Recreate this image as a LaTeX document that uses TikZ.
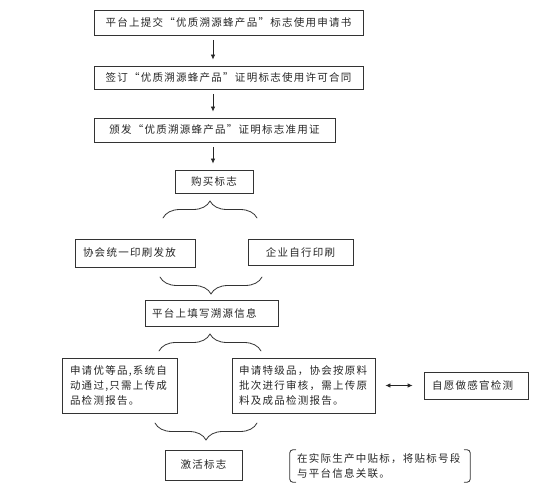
\documentclass[tikz,border=0pt]{standalone}
\usepackage{fontspec}
\setmainfont{Noto Sans CJK SC}[LetterSpace=12]
\usetikzlibrary{arrows.meta,decorations.pathreplacing}

\begin{document}
\begin{tikzpicture}[x=1pt,y=-1pt,>={Latex[length=5pt,width=4.5pt]},font=\fontsize{10.5}{15}\selectfont,line cap=round,
  box/.style={draw=black!80,line width=0.8pt,inner sep=0pt,text=black!85},
  flow/.style={->,draw=black!85,line width=0.8pt,shorten <=5pt,shorten >=6pt},
  brace/.style={decorate,decoration={brace,amplitude=17pt},draw=black!80,line width=0.8pt}]
\useasboundingbox (0,0) rectangle (539,500);
\node[box,minimum width=269pt,minimum height=25pt] (b1) at (228.5,22.5) {平台上提交“优质溯源蜂产品”标志使用申请书};
\node[box,minimum width=269pt,minimum height=23pt] (b2) at (228.5,77.5) {签订“优质溯源蜂产品”证明标志使用许可合同};
\node[box,minimum width=241pt,minimum height=24pt] (b3) at (214.5,130) {颁发“优质溯源蜂产品”证明标志准用证};
\node[box,minimum width=78pt,minimum height=23pt] (b4) at (214,181.5) {购买标志};
\node[box,text width=104pt,inner xsep=8pt,minimum height=28pt,align=left] (b5) at (135,253) {协会统一印刷发放};
\node[box,minimum width=105pt,minimum height=26pt] (b6) at (300.5,252) {企业自行印刷};
\node[box,text width=119pt,inner xsep=7pt,minimum height=26pt,align=left] (b7) at (211.5,313) {平台上填写溯源信息};
\node[box,text width=99pt,inner xsep=8pt,minimum height=55pt,align=left] (b8) at (119.5,385.5) {申请优等品,系统自\\动通过,只需上传成\\品检测报告。};
\node[box,text width=129pt,inner xsep=7pt,minimum height=55pt,align=left] (b9) at (303.5,385.5) {申请特级品，协会按原料\\批次进行审核，需上传原\\料及成品检测报告。};
\node[box,text width=88pt,inner xsep=8pt,minimum height=27pt,align=left] (b10) at (476,385.5) {自愿做感官检测};
\node[box,minimum width=77pt,minimum height=30pt] (b11) at (203.5,465) {激活标志};
\node[inner xsep=7pt,inner ysep=0pt,text width=166pt,minimum height=32pt,align=left,text=black!85] (b12) at (380,466) {在实际生产中贴标，将贴标号段\\与平台信息关联。};
\coordinate (ax) at (213,0);
\draw[flow] (b1.south -| ax) -- (b2.north -| ax);
\draw[flow] (b2.south -| ax) -- (b3.north -| ax);
\draw[flow] (b3.south -| ax) -- (b4.north -| ax);
\draw[flow,<->,shorten <=10pt,shorten >=11pt] (b9.east) -- (b10.west);
\coordinate (br1l) at (163,218);
\coordinate (br1r) at (257,218);
\coordinate (br2l) at (160,277);
\coordinate (br2r) at (262,277);
\coordinate (br3l) at (159,351);
\coordinate (br3r) at (261,351);
\coordinate (br4l) at (155,423);
\coordinate (br4r) at (257,423);
\draw[brace] (br1l) -- (br1r);
\draw[brace] (br2r) -- (br2l);
\draw[brace] (br3l) -- (br3r);
\draw[brace] (br4r) -- (br4l);
\draw[draw=black!80,line width=0.8pt,rounded corners=3pt] ([xshift=6pt]b12.north west) -- (b12.north west) -- (b12.south west) -- ([xshift=6pt]b12.south west);
\draw[draw=black!80,line width=0.8pt,rounded corners=3pt] ([xshift=-6pt]b12.north east) -- (b12.north east) -- (b12.south east) -- ([xshift=-6pt]b12.south east);
\end{tikzpicture}
\end{document}
